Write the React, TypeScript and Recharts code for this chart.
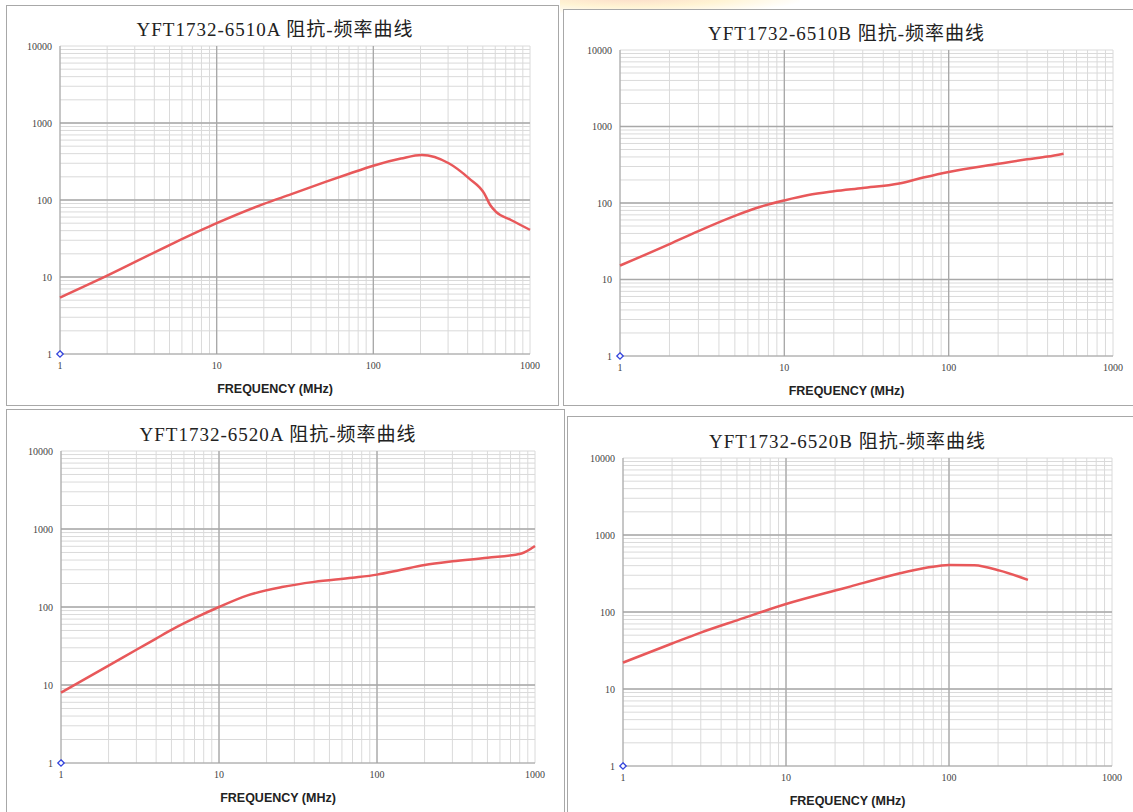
import React from "react";
import {
  ComposedChart,
  Line,
  Scatter,
  XAxis,
  YAxis,
  CartesianGrid,
  ReferenceLine,
} from "recharts";

// impedance curves (freq MHz, impedance ohm)
const freq6510A = [1, 2, 5, 10, 20, 30, 50, 70, 100, 150, 204, 303, 408, 510, 557, 607, 756, 1000];
const z6510A = [5.4, 10.4, 26, 50, 89, 119, 173, 219, 279, 345, 384, 300, 191, 122, 86, 70, 55, 41];

const freq6510B = [1, 2, 3, 5, 7, 10, 14, 20, 30, 50, 70, 100, 200, 300, 400, 500];
const z6510B = [15.2, 29, 43, 68, 88, 108, 127, 142, 157, 180, 215, 255, 325, 372, 405, 442];

const freq6520A = [1, 2, 3, 4, 5, 7, 10, 15, 25, 40, 70, 100, 140, 200, 300, 500, 822, 1000];
const z6520A = [8, 17.7, 28.3, 39.4, 51, 72, 100, 140, 180, 210, 237, 260, 298, 345, 385, 428, 486, 604];

const freq6520B = [1, 2, 3, 5.1, 10, 20, 25, 36, 50, 73.6, 100, 143, 205, 305];
const z6520B = [22, 39, 54, 79, 127, 190, 215, 266, 318, 378, 409, 404, 345, 261];

// the lone marker every sheet has at the origin
const originFreq = [1];
const originZ = [1];

const xTicks = [
  1, 2, 3, 4, 5, 6, 7, 8, 9, 10, 20, 30, 40, 50, 60, 70, 80, 90, 100, 200, 300, 400,
  500, 600, 700, 800, 900, 1000,
];
const yTicks = [
  1, 2, 3, 4, 5, 6, 7, 8, 9, 10, 20, 30, 40, 50, 60, 70, 80, 90, 100, 200, 300, 400,
  500, 600, 700, 800, 900, 1000, 2000, 3000, 4000, 5000, 6000, 7000, 8000, 9000, 10000,
];
const xDecades = [1, 10, 100, 1000];
const yDecades = [1, 10, 100, 1000, 10000];

const toRows = (fs: number[], zs: number[]) => fs.map((f, i) => ({ f, z: zs[i] }));

const panels = [
  {
    title: "YFT1732-6510A 阻抗-频率曲线",
    data: toRows(freq6510A, z6510A),
    box: { left: 6, top: 5, width: 553, height: 401 },
    plot: { x0: 60, x1: 530, y0: 46, y1: 354 },
  },
  {
    title: "YFT1732-6510B 阻抗-频率曲线",
    data: toRows(freq6510B, z6510B),
    box: { left: 563, top: 9, width: 580, height: 397 },
    plot: { x0: 620, x1: 1113, y0: 50, y1: 356 },
  },
  {
    title: "YFT1732-6520A 阻抗-频率曲线",
    data: toRows(freq6520A, z6520A),
    box: { left: 6, top: 409, width: 559, height: 420 },
    plot: { x0: 61, x1: 535, y0: 451, y1: 763 },
  },
  {
    title: "YFT1732-6520B 阻抗-频率曲线",
    data: toRows(freq6520B, z6520B),
    box: { left: 567, top: 416, width: 580, height: 420 },
    plot: { x0: 623, x1: 1112, y0: 458, y1: 766 },
  },
];

const Y_W = 50;
const X_H = 30;
const M_TOP = 10;
const M_RIGHT = 30;

const fmtTick = (decades: number[]) => (v: number) =>
  decades.includes(v) ? String(v) : "";

const Diamond = (props: any) => {
  const { cx, cy } = props;
  if (cx == null || cy == null) return null;
  const r = 3.2;
  return (
    <path
      d={`M${cx},${cy - r}L${cx + r},${cy}L${cx},${cy + r}L${cx - r},${cy}Z`}
      fill="#fff"
      stroke="#3344dd"
      strokeWidth={1.3}
    />
  );
};

function Panel({ p }: { p: (typeof panels)[number] }) {
  const { plot, box } = p;
  const w = plot.x1 - plot.x0 + Y_W + M_RIGHT;
  const h = plot.y1 - plot.y0 + M_TOP + X_H;
  const origin = toRows(originFreq, originZ);
  // titles sit a little left of the plot centre on the sheets
  const cx = (plot.x0 + plot.x1) / 2 - 20;
  return (
    <>
      <div
        style={{
          position: "absolute",
          left: box.left,
          top: box.top,
          width: box.width,
          height: box.height,
          border: "1px solid #a8a8a8",
          boxSizing: "border-box",
          background: "#fff",
        }}
      />
      <div
        style={{
          position: "absolute",
          left: cx - 200,
          width: 400,
          top: plot.y0 - 32,
          textAlign: "center",
          fontFamily: '"Liberation Serif", "Noto Sans CJK SC", serif',
          fontSize: 19,
          letterSpacing: 1,
          color: "#222",
          whiteSpace: "nowrap",
        }}
      >
        {p.title}
      </div>
      <div style={{ position: "absolute", left: plot.x0 - Y_W, top: plot.y0 - M_TOP }}>
        <ComposedChart
          width={w}
          height={h}
          margin={{ top: M_TOP, right: M_RIGHT, bottom: 0, left: 0 }}
        >
          <CartesianGrid stroke="#dadada" strokeWidth={1} />
          <XAxis
            dataKey="f"
            type="number"
            scale="log"
            domain={[1, 1000]}
            ticks={xTicks}
            interval={0}
            tickFormatter={fmtTick(xDecades)}
            tickLine={false}
            axisLine={{ stroke: "#a0a0a0" }}
            height={X_H}
            tick={{ fontSize: 10, fill: "#444", fontFamily: '"Liberation Serif", serif' }}
          />
          <YAxis
            dataKey="z"
            type="number"
            scale="log"
            domain={[1, 10000]}
            ticks={yTicks}
            interval={0}
            tickFormatter={fmtTick(yDecades)}
            tickLine={false}
            axisLine={false}
            width={Y_W}
            tick={{ fontSize: 10, fill: "#444", fontFamily: '"Liberation Serif", serif' }}
          />
          {[10, 100].map((v) => (
            <ReferenceLine key={"x" + v} x={v} stroke="#a8a8a8" strokeWidth={1.3} />
          ))}
          {[10, 100, 1000].map((v) => (
            <ReferenceLine key={"y" + v} y={v} stroke="#a8a8a8" strokeWidth={1.3} />
          ))}
          <ReferenceLine x={1} stroke="#a0a0a0" />
          <Line
            data={p.data}
            dataKey="z"
            type="monotone"
            stroke="#e8585a"
            strokeWidth={2.5}
            dot={false}
            isAnimationActive={false}
          />
          <Scatter
            data={origin}
            dataKey="z"
            shape={<Diamond />}
            isAnimationActive={false}
          />
        </ComposedChart>
      </div>
      <div
        style={{
          position: "absolute",
          left: cx - 150,
          width: 300,
          top: plot.y1 + 28,
          textAlign: "center",
          fontFamily: '"Liberation Sans", Arial, sans-serif',
          fontWeight: "bold",
          fontSize: 12.5,
          color: "#222",
        }}
      >
        FREQUENCY (MHz)
      </div>
    </>
  );
}

export default function App() {
  return (
    <div
      style={{
        position: "absolute",
        left: 0,
        top: 0,
        width: 1133,
        height: 812,
        overflow: "hidden",
        background: "#fff",
      }}
    >
      <div
        style={{
          position: "absolute",
          left: 560,
          top: -20,
          width: 240,
          height: 34,
          background:
            "radial-gradient(ellipse at 30% 50%, #fbd9c8 0%, rgba(255,240,200,0.8) 40%, rgba(255,255,255,0) 75%)",
        }}
      />
      {panels.map((p) => (
        <Panel key={p.title} p={p} />
      ))}
    </div>
  );
}
